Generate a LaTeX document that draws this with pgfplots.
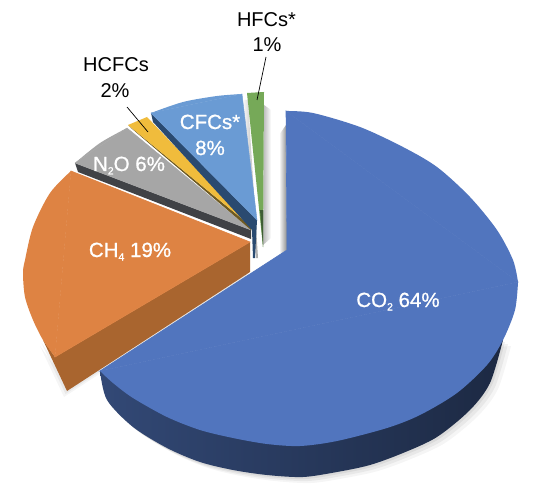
\documentclass[border=0pt]{standalone}
\usepackage{pgfplots}
\usepackage{pgfplotstable}
\usepackage{fontspec}
\setmainfont{Liberation Sans}[BoldFont={Liberation Sans},BoldFeatures={FakeBold=0.9}]
\pgfplotsset{compat=1.18}
\definecolor{co2}{HTML}{5175BE}
\definecolor{ch4}{HTML}{DE8343}
\definecolor{ch4d}{HTML}{A9652F}
\definecolor{n2o}{HTML}{A6A6A6}
\definecolor{n2od}{HTML}{404246}
\definecolor{hcfc}{HTML}{F0BC3C}
\definecolor{hcfcd}{HTML}{6E5A22}
\definecolor{cfc}{HTML}{6A9BD4}
\definecolor{cfcd}{HTML}{2A4A70}
\definecolor{hfc}{HTML}{76A958}
\definecolor{hfcd}{HTML}{3F5E35}
\newcommand{\sub}[1]{\raisebox{-3.5pt}{\fontsize{10.5}{12}\selectfont #1}}
\pgfplotstableread{
x y
286 111
313 113
360 127
403 147
437 167
470 197
497 230
513 260
518 282
}\bluearcA
\pgfplotstableread{
x y
518 282
515 310
503 340
487 365
457 393
420 415
387 428
337 441
300 446
267 444
233 438
200 430
167 417
133 398
113 383
100 371
}\bluearcB
\pgfplotstableread{
x y
287 250
286 111
518 282
100 371
}\bluecore
\pgfplotstableread{
x y
100 371
107 400
133 427
167 448
200 462
233 470
267 475
303 477
337 472
370 465
403 453
437 437
470 410
490 383
503 340
}\blueside
\pgfplotstableread{
x y
71 171
50 193
33 227
25 260
23 273
25 297
33 320
43 340
55 357
}\orangearc
\pgfplotstableread{
x y
71 171
55 357
250 242
}\orangecore
\pgfplotstableread{
x y
43 340
55 357
250 242
250 272
67 391
}\orangeside
\pgfplotstableread{
x y
75 163
100 143
127 128
}\greyarc
\pgfplotstableread{
x y
75 163
127 128
251 230
}\greycore
\pgfplotstableread{
x y
75 163
78 172
251 239
251 230
}\greyside
\pgfplotstableread{
x y
128 125
147 117
252 227
}\yellow
\pgfplotstableread{
x y
128 125
131 128
251 230
252 227
}\yellowside
\pgfplotstableread{
x y
151 113
183 102
217 96
242 94
}\cfcarc
\pgfplotstableread{
x y
151 113
242 94
257 220
}\cfccore
\pgfplotstableread{
x y
151 113
153 122
252 230
253 258
255 258
257 220
}\cfcside
\pgfplotstableread{
x y
247 93
264 92
263 247
}\hfc
\pgfplotstableread{
x y
260 210
263 247
263 210
}\hfcside
\begin{document}
\begin{tikzpicture}[x=1pt,y=1pt]
\begin{axis}[
  scale only axis, width=538pt, height=500pt,
  xmin=0, xmax=538, ymin=0, ymax=500, y dir=reverse,
  axis lines=none, no markers, clip=true,
  every axis plot/.append style={draw=none},
]
\addplot[fill=white] coordinates {(0,0) (538,0) (538,500) (0,500)} -- cycle;
% soft shadows on the white ground
\addplot[smooth, fill=black, opacity=0.04, xshift=8pt, yshift=-6pt] table {\blueside};
\addplot[smooth, fill=black, opacity=0.05, xshift=5pt, yshift=-4pt] table {\blueside};
\addplot[smooth, fill=black, opacity=0.06, xshift=2pt, yshift=-2pt] table {\blueside};
\addplot[fill=black, opacity=0.04, xshift=-3pt, yshift=-6pt] table {\orangeside} -- cycle;
\addplot[fill=black, opacity=0.05, xshift=-1.5pt, yshift=-3pt] table {\orangeside} -- cycle;
\addplot[left color=white, right color=black!45] coordinates {(279,135) (286,125) (287,250) (279,255)} -- cycle;
\addplot[left color=black!28, right color=white] coordinates {(264,105) (271,110) (271,238) (263,245)} -- cycle;
\addplot[left color=white, right color=black!35] coordinates {(242,100) (248,100) (258,258) (256,258)} -- cycle;
% slices
\addplot[fill=ch4d] table {\orangeside} -- cycle;
\addplot[smooth, fill=ch4] table {\orangearc};
\addplot[fill=ch4, draw=ch4, line width=0.6pt] table {\orangecore} -- cycle;
\addplot[smooth, left color=co2!62!black, right color=co2!35!black] table {\blueside};
\addplot[smooth, fill=co2] table {\bluearcA};
\addplot[smooth, fill=co2] table {\bluearcB};
\addplot[fill=co2, draw=co2, line width=0.6pt] table {\bluecore} -- cycle;
\addplot[fill=n2od] table {\greyside} -- cycle;
\addplot[smooth, fill=n2o] table {\greyarc};
\addplot[fill=n2o, draw=n2o, line width=0.4pt] table {\greycore} -- cycle;
\addplot[fill=hcfcd] table {\yellowside} -- cycle;
\addplot[fill=hcfc] table {\yellow} -- cycle;
\addplot[fill=cfcd] table {\cfcside} -- cycle;
\addplot[smooth, fill=cfc] table {\cfcarc};
\addplot[fill=cfc, draw=cfc, line width=0.4pt] table {\cfccore} -- cycle;
\addplot[fill=hfc] table {\hfc} -- cycle;
\addplot[fill=hfcd] table {\hfcside} -- cycle;
% leader lines
\addplot[draw=black, line width=0.7pt] coordinates {(266,57) (257,100)};
\addplot[draw=black, line width=0.7pt] coordinates {(127,107) (148,132)};
% labels
\tikzset{lab/.style={anchor=base, font=\fontsize{20}{24}\selectfont, inner sep=0pt, text=#1}}
\node[lab=black] at (axis cs:266.5,27) {HFCs*};
\node[lab=black] at (axis cs:267,52) {1\%};
\node[lab=black] at (axis cs:116,72) {HCFCs};
\node[lab=black] at (axis cs:115,98) {2\%};
\tikzset{wlab/.style={lab=white, font=\fontsize{20.5}{24}\selectfont\bfseries}}
\node[wlab] at (axis cs:210,129) {CFCs*};
\node[wlab] at (axis cs:210,155) {8\%};
\node[wlab] at (axis cs:129,171) {N\sub{2}O 6\%};
\node[wlab] at (axis cs:130,257) {CH\sub{4} 19\%};
\node[wlab] at (axis cs:398,307) {CO\sub{2} 64\%};
\end{axis}
\end{tikzpicture}
\end{document}
